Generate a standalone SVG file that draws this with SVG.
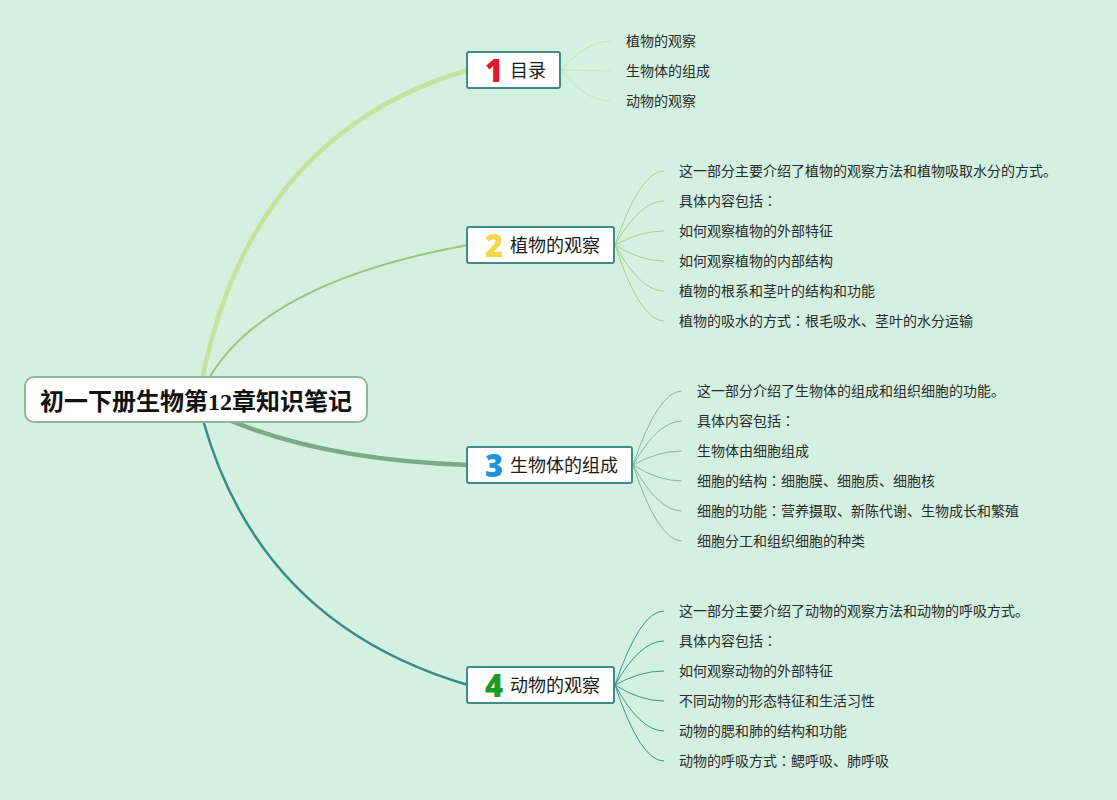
<svg xmlns="http://www.w3.org/2000/svg" width="1117" height="800" viewBox="0 0 1117 800">
<style>
.bg{fill:#d3f0e0}
.root{fill:#ffffff;stroke:#8db891;stroke-width:2}
.rootText{font-family:"Noto Sans CJK SC","Noto Sans",sans-serif;font-weight:bold;font-size:24px;fill:#111}
.br{fill:#ffffff;stroke:#3f8b89;stroke-width:2}
.num{font-family:"Noto Sans","Open Sans",sans-serif;font-weight:900;font-size:31px;text-anchor:middle}
.brText{font-family:"Noto Sans CJK SC","Noto Sans",sans-serif;font-size:18px;fill:#1a1a1a}
.leaf{font-family:"Noto Sans CJK SC","Noto Sans",sans-serif;font-size:14px;fill:#2a2a2a}
.jp{font-family:"Noto Sans CJK JP","Noto Sans CJK SC",sans-serif}
.lk{fill:none;stroke-width:1}
.g1{stroke:#c9e7a8}
.g2{stroke:#a6cf8b}
.g3{stroke:#88b79b}
.g4{stroke:#3f958f}
</style>
<rect class="bg" x="0" y="0" width="1117" height="800"/>
<g id="connectors">
  <path d="M202,380 Q251,134 468,70" fill="none" stroke="#c4e49d" stroke-width="4.5"/>
  <path d="M208,380 Q264,282 468,245" fill="none" stroke="#98c77a" stroke-width="2"/>
  <path d="M229,420 Q324,460 468,465" fill="none" stroke="#79ab84" stroke-width="4.5"/>
  <path d="M203,420 Q260,624 468,685" fill="none" stroke="#3a8c88" stroke-width="2.5"/>
  <g class="lk g1">
    <path d="M561,70 Q586,41 610,41"/>
    <path d="M561,70 L610,71"/>
    <path d="M561,70 Q586,101 610,101"/>
  </g>
  <g class="lk g2">
    <path d="M615,245 Q640,171 664,171"/>
    <path d="M615,245 Q640,201 664,201"/>
    <path d="M615,245 Q640,231 664,231"/>
    <path d="M615,245 Q640,261 664,261"/>
    <path d="M615,245 Q640,291 664,291"/>
    <path d="M615,245 Q640,321 664,321"/>
  </g>
  <g class="lk g3">
    <path d="M633,465 Q658,391 682,391"/>
    <path d="M633,465 Q658,421 682,421"/>
    <path d="M633,465 Q658,451 682,451"/>
    <path d="M633,465 Q658,481 682,481"/>
    <path d="M633,465 Q658,511 682,511"/>
    <path d="M633,465 Q658,541 682,541"/>
  </g>
  <g class="lk g4">
    <path d="M615,685 Q640,611 664,611"/>
    <path d="M615,685 Q640,641 664,641"/>
    <path d="M615,685 Q640,671 664,671"/>
    <path d="M615,685 Q640,701 664,701"/>
    <path d="M615,685 Q640,731 664,731"/>
    <path d="M615,685 Q640,761 664,761"/>
  </g>
</g>
<g id="root">
  <rect class="root" x="25" y="377" width="342" height="45" rx="9"/>
  <text class="rootText" x="196" y="410" text-anchor="middle">初一下册生物第<tspan font-family="'Liberation Serif',serif">12</tspan>章知识笔记</text>
</g>
<g id="node1">
  <rect class="br" x="467" y="52" width="93" height="36" rx="2"/>
  <text class="num" x="494" y="82" fill="#e0182d">1</text>
  <text class="brText" x="510" y="77">目录</text>
</g>
<g id="node2">
  <rect class="br" x="467" y="227" width="147" height="36" rx="2"/>
  <text class="num" x="494" y="257" fill="#f4d64c">2</text>
  <text class="brText" x="510" y="252">植物的观察</text>
</g>
<g id="node3">
  <rect class="br" x="467" y="447" width="165" height="36" rx="2"/>
  <text class="num" x="494" y="477" fill="#1f93d9">3</text>
  <text class="brText" x="510" y="472">生物体的组成</text>
</g>
<g id="node4">
  <rect class="br" x="467" y="667" width="147" height="36" rx="2"/>
  <text class="num" x="494" y="697" fill="#1c9b2b">4</text>
  <text class="brText" x="510" y="692">动物的观察</text>
</g>
<g id="leaves1">
  <text class="leaf" x="626" y="46">植物的观察</text>
  <text class="leaf" x="626" y="76">生物体的组成</text>
  <text class="leaf" x="626" y="106">动物的观察</text>
</g>
<g id="leaves2">
  <text class="leaf" x="679" y="176">这一部分主要介绍了植物的观察方法和植物吸取水分的方式<tspan class="jp">。</tspan></text>
  <text class="leaf" x="679" y="206">具体内容包括<tspan class="jp">：</tspan></text>
  <text class="leaf" x="679" y="236">如何观察植物的外部特征</text>
  <text class="leaf" x="679" y="266">如何观察植物的内部结构</text>
  <text class="leaf" x="679" y="296">植物的根系和茎叶的结构和功能</text>
  <text class="leaf" x="679" y="326">植物的吸水的方式<tspan class="jp">：</tspan>根毛吸水、茎叶的水分运输</text>
</g>
<g id="leaves3">
  <text class="leaf" x="697" y="396">这一部分介绍了生物体的组成和组织细胞的功能<tspan class="jp">。</tspan></text>
  <text class="leaf" x="697" y="426">具体内容包括<tspan class="jp">：</tspan></text>
  <text class="leaf" x="697" y="456">生物体由细胞组成</text>
  <text class="leaf" x="697" y="486">细胞的结构<tspan class="jp">：</tspan>细胞膜、细胞质、细胞核</text>
  <text class="leaf" x="697" y="516">细胞的功能<tspan class="jp">：</tspan>营养摄取、新陈代谢、生物成长和繁殖</text>
  <text class="leaf" x="697" y="546">细胞分工和组织细胞的种类</text>
</g>
<g id="leaves4">
  <text class="leaf" x="679" y="616">这一部分主要介绍了动物的观察方法和动物的呼吸方式<tspan class="jp">。</tspan></text>
  <text class="leaf" x="679" y="646">具体内容包括<tspan class="jp">：</tspan></text>
  <text class="leaf" x="679" y="676">如何观察动物的外部特征</text>
  <text class="leaf" x="679" y="706">不同动物的形态特征和生活习性</text>
  <text class="leaf" x="679" y="736">动物的腮和肺的结构和功能</text>
  <text class="leaf" x="679" y="766">动物的呼吸方式<tspan class="jp">：</tspan>鳃呼吸、肺呼吸</text>
</g>
</svg>
